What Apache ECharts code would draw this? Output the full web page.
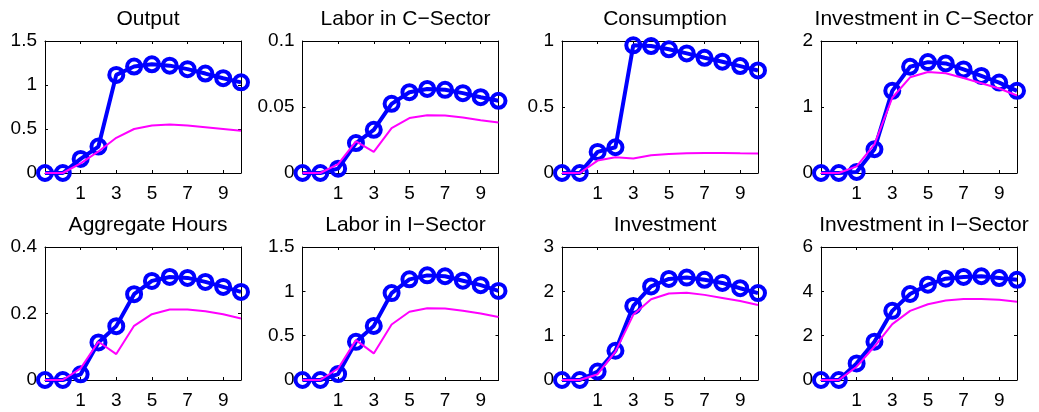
<!DOCTYPE html>
<html>
<head>
<meta charset="utf-8">
<title>Impulse responses</title>
<script src="https://cdn.jsdelivr.net/npm/echarts@6/dist/echarts.min.js"></script>
<style>
  html, body { margin: 0; padding: 0; background: #ffffff; }
  #chart { width: 1039px; height: 412px; }
</style>
</head>
<body>
<div id="chart"></div>
<script>
// Horizon (periods) shared by every panel
const periods = [-1, 0, 1, 2, 3, 4, 5, 6, 7, 8, 9, 10];
const xTicks = [1, 3, 5, 7, 9];

// Panel titles, in reading order (row 1 then row 2)
const titles = ['Output', 'Labor in C\u2212Sector', 'Consumption', 'Investment in C\u2212Sector',
                'Aggregate Hours', 'Labor in I\u2212Sector', 'Investment', 'Investment in I\u2212Sector'];
const yMax  = [1.5, 0.1, 1, 2, 0.4, 1.5, 3, 6];
const yStep = [0.5, 0.05, 0.5, 1, 0.2, 0.5, 1, 2];

// Responses drawn with circles (blue)
const outputO      = [0, 0, 0.16, 0.30, 1.115, 1.21, 1.235, 1.22, 1.18, 1.13, 1.077, 1.03];
const laborCO      = [0, 0, 0.0033, 0.0227, 0.0327, 0.0524, 0.0612, 0.0637, 0.063, 0.0605, 0.0574, 0.0547];
const consumptionO = [0, 0, 0.16, 0.195, 0.967, 0.962, 0.937, 0.906, 0.873, 0.843, 0.81, 0.777];
const investCO     = [0, 0, 0.015, 0.36, 1.245, 1.61, 1.68, 1.66, 1.57, 1.47, 1.37, 1.245];
const hoursO       = [0, 0, 0.017, 0.113, 0.162, 0.258, 0.298, 0.31, 0.307, 0.295, 0.28, 0.265];
const laborIO      = [0, 0, 0.067, 0.43, 0.61, 0.98, 1.135, 1.18, 1.17, 1.12, 1.07, 1.005];
const investmentO  = [0, 0, 0.19, 0.66, 1.67, 2.11, 2.28, 2.31, 2.26, 2.19, 2.07, 1.96];
const investIO     = [0, 0, 0.75, 1.73, 3.12, 3.88, 4.30, 4.57, 4.65, 4.68, 4.60, 4.52];

// Responses drawn as thin lines (magenta)
const outputL      = [0, 0, 0.11, 0.245, 0.40, 0.50, 0.54, 0.55, 0.54, 0.52, 0.50, 0.48];
const laborCL      = [0, 0, 0.0068, 0.024, 0.016, 0.034, 0.0416, 0.0438, 0.0436, 0.042, 0.040, 0.0383];
const consumptionL = [0, 0, 0.094, 0.12, 0.11, 0.134, 0.144, 0.149, 0.152, 0.152, 0.149, 0.147];
const investCL     = [0, 0, 0.10, 0.435, 1.14, 1.45, 1.53, 1.51, 1.44, 1.36, 1.28, 1.175];
const hoursL       = [0, 0, 0.035, 0.115, 0.078, 0.163, 0.198, 0.212, 0.212, 0.207, 0.198, 0.185];
const laborIL      = [0, 0, 0.13, 0.45, 0.30, 0.626, 0.77, 0.81, 0.806, 0.78, 0.75, 0.71];
const investmentL  = [0, 0, 0.13, 0.64, 1.47, 1.82, 1.95, 1.97, 1.92, 1.85, 1.78, 1.69];
const investIL     = [0, 0, 0.60, 1.51, 2.52, 3.12, 3.42, 3.59, 3.65, 3.65, 3.62, 3.53];

const circleSeries = [outputO, laborCO, consumptionO, investCO, hoursO, laborIO, investmentO, investIO];
const lineSeries   = [outputL, laborCL, consumptionL, investCL, hoursL, laborIL, investmentL, investIL];

// Panel layout (pixels)
const colLeft = [45, 302.5, 562, 821];
const rowTop = [41, 247];
const panelW = 196;
const panelH = [132, 133];

const FONT = '"Liberation Sans", Arial, Helvetica, sans-serif';

const grids = [], xAxes = [], yAxes = [], series = [], titleList = [];

const tickStyle = { show: true, inside: true, length: 3, lineStyle: { color: '#000', width: 1 } };
const lineStyleAxis = { show: true, onZero: false, lineStyle: { color: '#000', width: 1 } };

for (let i = 0; i < 8; i++) {
  const r = Math.floor(i / 4), c = i % 4;
  const left = colLeft[c], top = rowTop[r], h = panelH[r];
  grids.push({ left: left, top: top, width: panelW, height: h, containLabel: false });

  titleList.push({
    text: titles[i],
    left: left + panelW / 2,
    top: top - 37,
    textAlign: 'center',
    textStyle: { fontFamily: FONT, fontSize: 21, fontWeight: 'normal', color: '#000' }
  });

  const xBase = { type: 'value', gridIndex: i, min: -1, max: 10, splitLine: { show: false },
                  axisLine: lineStyleAxis };
  // bottom x axis with labels
  xAxes.push(Object.assign({}, xBase, {
    position: 'bottom',
    axisTick: Object.assign({}, tickStyle, { customValues: xTicks }),
    axisLabel: { show: true, customValues: xTicks, margin: 11, fontFamily: FONT, fontSize: 19, color: '#000' }
  }));
  // top x axis (box edge with mirrored ticks)
  xAxes.push(Object.assign({}, xBase, {
    position: 'top',
    axisTick: Object.assign({}, tickStyle, { customValues: xTicks }),
    axisLabel: { show: false }
  }));

  const yBase = { type: 'value', gridIndex: i, min: 0, max: yMax[i], interval: yStep[i],
                  splitLine: { show: false }, axisLine: lineStyleAxis, axisTick: tickStyle };
  yAxes.push(Object.assign({}, yBase, {
    position: 'left',
    axisLabel: { show: true, margin: 8, fontFamily: FONT, fontSize: 19, color: '#000' }
  }));
  yAxes.push(Object.assign({}, yBase, {
    position: 'right',
    axisLabel: { show: false }
  }));

  series.push({
    type: 'line',
    xAxisIndex: 2 * i, yAxisIndex: 2 * i,
    data: periods.map((p, k) => [p, circleSeries[i][k]]),
    symbol: 'circle', symbolSize: 14, showSymbol: true,
    itemStyle: { color: 'rgba(0,0,0,0)', borderColor: '#0000ff', borderWidth: 4 },
    lineStyle: { color: '#0000ff', width: 4 },
    clip: false, animation: false, z: 2
  });
  series.push({
    type: 'line',
    xAxisIndex: 2 * i, yAxisIndex: 2 * i,
    data: periods.map((p, k) => [p, lineSeries[i][k]]),
    symbol: 'none',
    lineStyle: { color: '#ff00ff', width: 2 },
    clip: false, animation: false, z: 3
  });
}

const chart = echarts.init(document.getElementById('chart'), null, { renderer: 'canvas' });
chart.setOption({
  backgroundColor: '#ffffff',
  animation: false,
  title: titleList,
  grid: grids,
  xAxis: xAxes,
  yAxis: yAxes,
  series: series
});
</script>
</body>
</html>
